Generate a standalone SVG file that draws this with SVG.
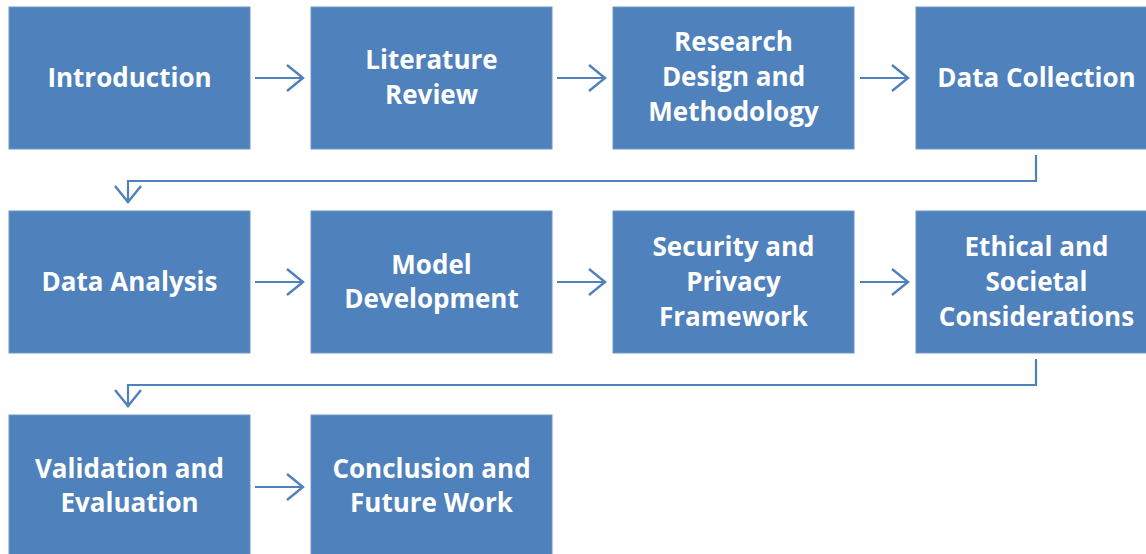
<svg xmlns="http://www.w3.org/2000/svg" width="1146" height="554" viewBox="0 0 1146 554">
<style>
.box{fill:#4F81BD;stroke:#6E97C8;stroke-width:1}
.t{font-family:"Open Sans","Liberation Sans",sans-serif;font-weight:700;font-size:26px;fill:#FFFFFF;text-anchor:middle}
.c{fill:none;stroke:#4F81BD;stroke-width:2.2}
</style>
<defs>
<marker id="ah" viewBox="0 0 20 30" refX="18" refY="15" markerWidth="20" markerHeight="30" markerUnits="userSpaceOnUse" orient="auto">
<path d="M2,2 L18,15 L2,28" fill="none" stroke="#4F81BD" stroke-width="2.4"/>
</marker>
</defs>
<g id="connectors">
<line class="c" x1="255" y1="78" x2="303" y2="78" marker-end="url(#ah)"/>
<line class="c" x1="557" y1="78" x2="605" y2="78" marker-end="url(#ah)"/>
<line class="c" x1="860" y1="78" x2="908" y2="78" marker-end="url(#ah)"/>
<polyline class="c" points="1036,155 1036,181 128,181 128,202" marker-end="url(#ah)"/>
<line class="c" x1="255" y1="282" x2="303" y2="282" marker-end="url(#ah)"/>
<line class="c" x1="557" y1="282" x2="605" y2="282" marker-end="url(#ah)"/>
<line class="c" x1="860" y1="282" x2="908" y2="282" marker-end="url(#ah)"/>
<polyline class="c" points="1036,359 1036,385 128,385 128,406" marker-end="url(#ah)"/>
<line class="c" x1="255" y1="487" x2="303" y2="487" marker-end="url(#ah)"/>
</g>
<g id="n1"><rect class="box" x="9" y="7" width="241" height="142"/><text class="t" x="129.5" y="87">Introduction</text></g>
<g id="n2"><rect class="box" x="311" y="7" width="241" height="142"/><text class="t" x="431.5" y="69">Literature</text><text class="t" x="431.5" y="104">Review</text></g>
<g id="n3"><rect class="box" x="613" y="7" width="241" height="142"/><text class="t" x="733.5" y="51">Research</text><text class="t" x="733.5" y="86">Design and</text><text class="t" x="733.5" y="121">Methodology</text></g>
<g id="n4"><rect class="box" x="916" y="7" width="241" height="142"/><text class="t" x="1036.5" y="87">Data Collection</text></g>
<g id="n5"><rect class="box" x="9" y="211" width="241" height="142"/><text class="t" x="129.5" y="291">Data Analysis</text></g>
<g id="n6"><rect class="box" x="311" y="211" width="241" height="142"/><text class="t" x="431.5" y="274">Model</text><text class="t" x="431.5" y="308">Development</text></g>
<g id="n7"><rect class="box" x="613" y="211" width="241" height="142"/><text class="t" x="733.5" y="256">Security and</text><text class="t" x="733.5" y="291">Privacy</text><text class="t" x="733.5" y="326">Framework</text></g>
<g id="n8"><rect class="box" x="916" y="211" width="241" height="142"/><text class="t" x="1036.5" y="256">Ethical and</text><text class="t" x="1036.5" y="291">Societal</text><text class="t" x="1036.5" y="326">Considerations</text></g>
<g id="n9"><rect class="box" x="9" y="415" width="241" height="142"/><text class="t" x="129.5" y="478">Validation and</text><text class="t" x="129.5" y="512">Evaluation</text></g>
<g id="n10"><rect class="box" x="311" y="415" width="241" height="142"/><text class="t" x="431.5" y="478">Conclusion and</text><text class="t" x="431.5" y="512">Future Work</text></g>
</svg>
